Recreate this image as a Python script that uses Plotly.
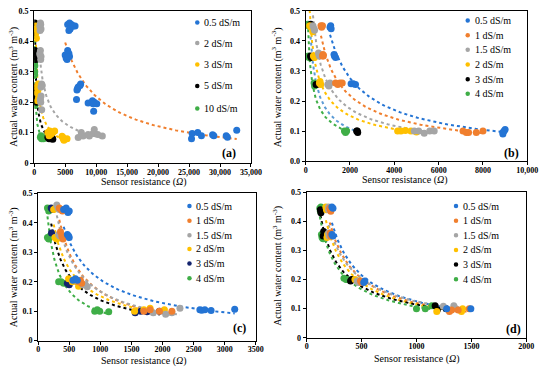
import numpy as np
import plotly.graph_objects as go

W, H = 550, 373
BLUE = "#2474D4"; ORANGE = "#F07F2E"; GRAY = "#A5A5A5"; YELLOW = "#FFC000"
BLACK = "#000000"; NAVY = "#14246E"; GREEN = "#3FAE47"; LBLUE = "#5B9BD5"
FONT = "Liberation Serif, DejaVu Serif, serif"

# ---------------- Panel (a) ----------------
A05_R = [5400, 5700, 6000, 6300, 6600, 5800, 5600, 6200, 5000, 5150, 5300, 5400, 5600, 5700, 5500,
         6900, 7100, 7400, 7500, 7000, 6830, 8700, 9400, 9700, 10100, 9600, 9500,
         25400, 25500, 26400, 27000, 28800, 29000, 31000, 31200, 32700]
A05_W = [0.455, 0.46, 0.455, 0.45, 0.45, 0.44, 0.435, 0.45, 0.355, 0.345, 0.34, 0.37, 0.36, 0.35, 0.35,
         0.24, 0.25, 0.255, 0.26, 0.245, 0.209, 0.197, 0.205, 0.2, 0.195, 0.17, 0.195,
         0.08, 0.097, 0.1, 0.09, 0.093, 0.09, 0.09, 0.085, 0.108]
A2_R = [900, 1000, 1100, 950, 1050, 900, 1000, 1100, 1050, 950, 1100, 1200, 1300, 1000, 1100, 1050, 1210,
        7100, 7600, 8700, 9500, 9700, 10250, 11000, 7900, 8900]
A2_W = [0.45, 0.46, 0.44, 0.435, 0.455, 0.36, 0.37, 0.35, 0.34, 0.355, 0.25, 0.26, 0.255, 0.21, 0.22, 0.2, 0.175,
        0.084, 0.1, 0.094, 0.097, 0.11, 0.094, 0.089, 0.089, 0.089]
A3_R = [250, 300, 350, 300, 400, 500, 600, 700, 550, 650,
        2200, 2500, 2700, 3000, 3300, 2400, 4500, 4700, 4800, 5300, 4600]
A3_W = [0.45, 0.43, 0.41, 0.44, 0.25, 0.23, 0.24, 0.215, 0.205, 0.26,
        0.1, 0.105, 0.095, 0.1, 0.105, 0.09, 0.088, 0.08, 0.075, 0.08, 0.085]
A5_R = [100, 150, 200, 100, 150, 200, 180, 250, 250, 300, 200, 350, 280,
        2200, 2400, 2700, 3000, 2500, 2900]
A5_W = [0.46, 0.45, 0.44, 0.43, 0.37, 0.36, 0.35, 0.34, 0.25, 0.22, 0.24, 0.2, 0.21,
        0.085, 0.08, 0.08, 0.078, 0.085, 0.082]
A10_R = [50, 80, 100, 60, 60, 80, 100, 70, 100, 150, 120, 1000, 1200, 1400, 1500, 1100]
A10_W = [0.45, 0.44, 0.42, 0.43, 0.33, 0.3, 0.32, 0.29, 0.21, 0.2, 0.19, 0.085, 0.08, 0.085, 0.08, 0.09]

# ---------------- Panel (b) ----------------
B05_R = [1100, 1150, 1130, 1300, 1350, 1280, 2050, 2150, 2250, 8900, 8950, 9000, 8900]
B05_W = [0.445, 0.44, 0.45, 0.35, 0.345, 0.355, 0.257, 0.257, 0.255, 0.095, 0.1, 0.105, 0.09]
B1_R = [690, 720, 760, 760, 800, 780, 1350, 1450, 1550, 1650, 7100, 7250, 7350, 7700, 8000]
B1_W = [0.45, 0.445, 0.45, 0.35, 0.35, 0.355, 0.26, 0.255, 0.26, 0.26, 0.1, 0.095, 0.095, 0.095, 0.1]
B15_R = [330, 380, 400, 580, 620, 600, 1000, 1050, 1100, 4900, 5100, 5350, 5600, 5800]
B15_W = [0.45, 0.44, 0.435, 0.36, 0.35, 0.355, 0.255, 0.25, 0.26, 0.1, 0.1, 0.093, 0.1, 0.1]
B2_R = [180, 250, 320, 350, 400, 620, 680, 650, 4150, 4300, 4500, 4750, 5000]
B2_W = [0.45, 0.445, 0.43, 0.35, 0.345, 0.26, 0.255, 0.265, 0.1, 0.1, 0.102, 0.1, 0.097]
B3_R = [230, 250, 220, 250, 470, 500, 2300, 2350, 2330]
B3_W = [0.455, 0.45, 0.35, 0.345, 0.255, 0.255, 0.1, 0.095, 0.1]
B4_R = [100, 130, 120, 150, 380, 400, 1750, 1800, 1850]
B4_W = [0.455, 0.45, 0.35, 0.345, 0.26, 0.25, 0.1, 0.095, 0.1]

# ---------------- Panel (c) ----------------
C05_R = [410, 450, 480, 500, 470, 490, 500, 560, 600, 630, 2600, 2630, 2680, 2780, 3160]
C05_W = [0.445, 0.45, 0.435, 0.44, 0.36, 0.355, 0.35, 0.205, 0.21, 0.205, 0.105, 0.103, 0.105, 0.102, 0.107]
C1_R = [340, 370, 390, 360, 380, 400, 650, 680, 700, 1700, 1800, 1950, 2150]
C1_W = [0.45, 0.445, 0.44, 0.37, 0.355, 0.345, 0.2, 0.205, 0.195, 0.1, 0.105, 0.1, 0.1]
C15_R = [300, 320, 340, 330, 350, 720, 760, 790, 1850, 2050, 2150, 2280]
C15_W = [0.46, 0.45, 0.445, 0.36, 0.355, 0.19, 0.19, 0.183, 0.095, 0.09, 0.095, 0.11]
C2_R = [250, 280, 270, 300, 490, 550, 650, 1550, 1700, 1800, 2030]
C2_W = [0.445, 0.45, 0.35, 0.345, 0.21, 0.2, 0.185, 0.1, 0.105, 0.11, 0.105]
C3_R = [210, 230, 215, 470, 500, 540, 1560, 1650, 1750, 1950]
C3_W = [0.45, 0.445, 0.365, 0.195, 0.19, 0.2, 0.095, 0.1, 0.098, 0.1]
C4_R = [150, 170, 190, 150, 170, 190, 330, 370, 410, 910, 950, 990, 1135]
C4_W = [0.45, 0.44, 0.445, 0.35, 0.345, 0.355, 0.2, 0.2, 0.195, 0.1, 0.105, 0.1, 0.098]

# ---------------- Panel (d) ----------------
D05_R = [230, 240, 230, 240, 520, 530, 1275, 1495]
D05_W = [0.45, 0.445, 0.355, 0.35, 0.19, 0.195, 0.1, 0.1]
D1_R = [210, 220, 215, 220, 490, 500, 1300, 1320, 1380, 1480]
D1_W = [0.445, 0.435, 0.36, 0.35, 0.195, 0.19, 0.09, 0.095, 0.095, 0.1]
D15_R = [200, 200, 200, 205, 460, 470, 1245, 1340, 1360]
D15_W = [0.45, 0.44, 0.36, 0.35, 0.195, 0.19, 0.108, 0.11, 0.1]
D2_R = [175, 180, 190, 185, 440, 480, 1185, 1410, 1420]
D2_W = [0.45, 0.44, 0.355, 0.345, 0.2, 0.195, 0.09, 0.09, 0.1]
D3_R = [125, 130, 155, 150, 410, 400, 1170, 1190, 1270]
D3_W = [0.44, 0.43, 0.365, 0.35, 0.2, 0.195, 0.11, 0.096, 0.1]
D4_R = [120, 130, 125, 135, 140, 150, 340, 360, 370, 1000, 1080, 1140]
D4_W = [0.445, 0.45, 0.435, 0.355, 0.345, 0.34, 0.205, 0.2, 0.2, 0.1, 0.1, 0.11]

# tick labels
Y_TICKS = [0, 0.1, 0.2, 0.3, 0.4, 0.5]
Y_TEXT = ["0", "0.1", "0.2", "0.3", "0.4", "0.5"]
Y_TEXT_B = ["0.0", "0.1", "0.2", "0.3", "0.4", "0.5"]
XA_TICKS = [0, 5000, 10000, 15000, 20000, 25000, 30000, 35000]
XA_TEXT = ["0", "5000", "10,000", "15,000", "20,000", "25,000", "30,000", "35,000"]
XB_TICKS = [0, 2000, 4000, 6000, 8000, 10000]
XB_TEXT = ["0", "2000", "4000", "6000", "8000", "10,000"]
XC_TICKS = [0, 500, 1000, 1500, 2000, 2500, 3000, 3500]
XD_TICKS = [0, 500, 1000, 1500, 2000]

def px(x):
    return x / W

def py(y):
    return 1 - y / H

panels = [
    dict(label="(a)", dom=([33, 255], [7, 163]), xr=35000, xt=XA_TICKS, xtt=XA_TEXT, ytt=Y_TEXT,
         series=[("0.5 dS/m", A05_R, A05_W, BLUE, ORANGE), ("2 dS/m", A2_R, A2_W, GRAY, GRAY),
                 ("3 dS/m", A3_R, A3_W, YELLOW, YELLOW), ("5 dS/m", A5_R, A5_W, BLACK, BLACK),
                 ("10 dS/m", A10_R, A10_W, GREEN, GREEN)],
         leg=(200, 205, [19, 40, 62, 84, 107]), ytitle=(12, 85), xtitle=(145, 182.5), plab=(233, 153)),
    dict(label="(b)", dom=([311, 538], [7, 161]), xr=10000, xt=XB_TICKS, xtt=XB_TEXT, ytt=Y_TEXT_B,
         series=[("0.5 dS/m", B05_R, B05_W, BLUE, BLUE), ("1 dS/m", B1_R, B1_W, ORANGE, ORANGE),
                 ("1.5 dS/m", B15_R, B15_W, GRAY, GRAY), ("2 dS/m", B2_R, B2_W, YELLOW, YELLOW),
                 ("3 dS/m", B3_R, B3_W, BLACK, LBLUE), ("4 dS/m", B4_R, B4_W, GREEN, GREEN)],
         leg=(477, 482, [17, 32, 47, 62, 77, 92]), ytitle=(282, 85), xtitle=(413, 180.5), plab=(522, 153)),
    dict(label="(c)", dom=([37, 260], [194, 345]), xr=3500, xt=XC_TICKS, xtt=[str(v) for v in XC_TICKS], ytt=Y_TEXT,
         series=[("0.5 dS/m", C05_R, C05_W, BLUE, BLUE), ("1 dS/m", C1_R, C1_W, ORANGE, ORANGE),
                 ("1.5 dS/m", C15_R, C15_W, GRAY, GRAY), ("2 dS/m", C2_R, C2_W, YELLOW, YELLOW),
                 ("3 dS/m", C3_R, C3_W, NAVY, BLACK), ("4 dS/m", C4_R, C4_W, GREEN, GREEN)],
         leg=(192, 197, [207, 222, 237, 251, 266, 281]), ytitle=(12, 270), xtitle=(145, 366), plab=(243, 332)),
    dict(label="(d)", dom=([312, 537], [193, 342]), xr=2000, xt=XD_TICKS, xtt=[str(v) for v in XD_TICKS], ytt=Y_TEXT,
         series=[("0.5 dS/m", D05_R, D05_W, BLUE, BLUE), ("1 dS/m", D1_R, D1_W, ORANGE, ORANGE),
                 ("1.5 dS/m", D15_R, D15_W, GRAY, GRAY), ("2 dS/m", D2_R, D2_W, YELLOW, YELLOW),
                 ("3 dS/m", D3_R, D3_W, BLACK, BLACK), ("4 dS/m", D4_R, D4_W, GREEN, GREEN)],
         leg=(465, 470, [207, 222, 237, 252, 267, 282]), ytitle=(282, 268), xtitle=(425, 364), plab=(524, 333)),
]

fig = go.Figure()
shapes = []
annotations = []
layout = {}

for i, p in enumerate(panels, start=1):
    sx = "" if i == 1 else str(i)
    xa, ya = "x" + sx, "y" + sx
    (x0, x1), (y0, y1) = p["dom"]
    axis_common = dict(showline=True, linecolor="black", linewidth=1, mirror=True, ticks="outside",
                       ticklen=3, tickcolor="black", showgrid=False, zeroline=False,
                       tickfont=dict(family=FONT, size=8, color="black", weight="bold"))
    layout["xaxis" + sx] = dict(axis_common, domain=[px(x0), px(x1)], anchor=ya, range=[0, p["xr"]],
                                tickmode="array", tickvals=p["xt"], ticktext=p["xtt"],
                                ticklabelstandoff=-2)
    layout["yaxis" + sx] = dict(axis_common, domain=[py(y1), py(y0)], anchor=xa, range=[0, 0.5],
                                tickmode="array", tickvals=Y_TICKS, ticktext=p["ytt"])
    # trendlines (power fits like Excel) under markers
    for name, R, Wc, mc, tc in p["series"]:
        R_arr = np.array(R, float); W_arr = np.array(Wc, float)
        b, lna = np.polyfit(np.log(R_arr), np.log(W_arr), 1)
        xs = np.geomspace(R_arr.min(), R_arr.max(), 80)
        fig.add_trace(go.Scatter(x=xs, y=np.exp(lna) * xs ** b, mode="lines", xaxis=xa, yaxis=ya,
                                 line=dict(color=tc, width=2, dash="dot"), showlegend=False,
                                 hoverinfo="skip"))
    for name, R, Wc, mc, tc in reversed(p["series"]):
        fig.add_trace(go.Scatter(x=R, y=Wc, mode="markers", name=name, xaxis=xa, yaxis=ya,
                                 marker=dict(color=mc, size=7), showlegend=False))
    # manual legend
    mx, tx, rows = p["leg"]
    for (name, R, Wc, mc, tc), ry in zip(p["series"], rows):
        shapes.append(dict(type="circle", xref="paper", yref="paper",
                           x0=px(mx - 2.3), x1=px(mx + 2.3), y0=py(ry + 2.3), y1=py(ry - 2.3),
                           fillcolor=mc, line=dict(width=0)))
        annotations.append(dict(x=px(tx), y=py(ry), xref="paper", yref="paper", text=name,
                                xanchor="left", yanchor="middle", showarrow=False,
                                font=dict(family=FONT, size=10, color="black")))
    annotations.append(dict(x=px(p["ytitle"][0]), y=py(p["ytitle"][1]), xref="paper", yref="paper",
                            text="Actual water content (m<sup>3</sup> m<sup>-3</sup>)", textangle=-90,
                            showarrow=False, xanchor="center", yanchor="middle",
                            font=dict(family=FONT, size=10, color="black")))
    annotations.append(dict(x=px(p["xtitle"][0]), y=py(p["xtitle"][1]), xref="paper", yref="paper",
                            text="Sensor resistance (<i>Ω</i>)", showarrow=False,
                            xanchor="center", yanchor="middle",
                            font=dict(family=FONT, size=10, color="black")))
    annotations.append(dict(x=px(p["plab"][0]), y=py(p["plab"][1]), xref="paper", yref="paper",
                            text="<b>" + p["label"] + "</b>", showarrow=False,
                            xanchor="center", yanchor="middle",
                            font=dict(family=FONT, size=12, color="black")))

fig.update_layout(width=W, height=H, margin=dict(l=0, r=0, t=0, b=0), plot_bgcolor="white",
                  paper_bgcolor="white", showlegend=False, shapes=shapes, annotations=annotations,
                  **layout)
fig.write_html("out.html", config={"displayModeBar": False},
               post_script="document.body.style.margin='0px';document.body.style.overflow='hidden';")
